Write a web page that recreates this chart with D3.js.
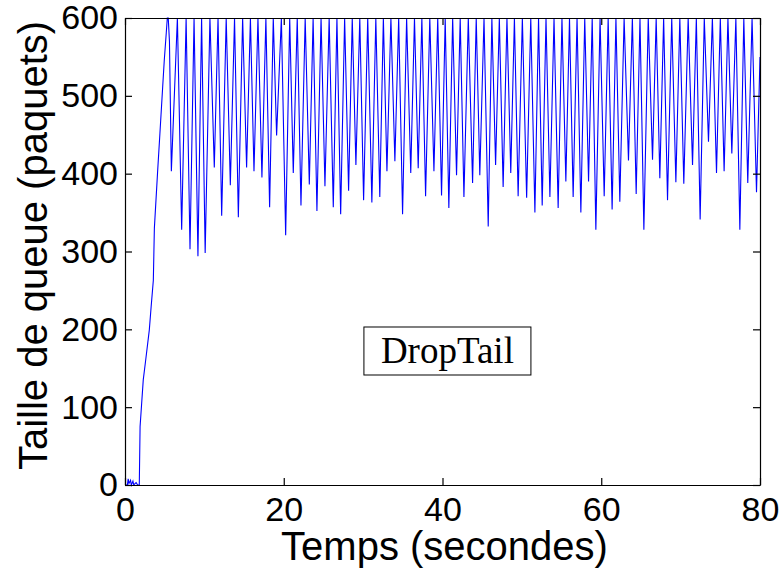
<!DOCTYPE html>
<head>
    <meta charset="utf-8">
    <style>
        body {
            margin: 0;
            background-color: #fff;
        }

        .axis text {
            font: 34px "Liberation Sans", Arial, sans-serif;
            fill: #000;
        }

        .axis path,
        .axis line {
            stroke: #000;
            stroke-width: 1.2;
        }

        .label {
            font: 40px "Liberation Sans", Arial, sans-serif;
        }
    </style>
</head>

<body>
    <div id="chart-area"></div>

    <script src="https://cdn.jsdelivr.net/npm/d3@7"></script>
    <script>
        // start-up phase: a little noise, then the queue fills up
        var rampT = [0, 0.3, 0.4, 0.5, 0.7, 0.8, 1.0, 1.1, 1.4, 1.6, 1.8, 1.9, 2.1, 2.3, 2.6, 3.06, 3.3, 3.57, 3.7, 4.1, 4.4, 4.75, 4.95, 5.2, 5.33, 5.45, 5.6]
        var rampV = [0, 0, 8, 2, 6, 0, 5, 0, 3, 0, 0, 75, 105, 135, 160, 199, 230, 263, 330, 401, 452, 512, 546, 581, 600, 600, 570]

        // bottoms of the sawtooth
        var troughT = [5.84, 7.14, 8.19, 9.19, 10.1, 11.25, 12.18, 13.27, 14.28, 15.32, 16.25, 17.25, 18.22, 19.1, 20.24, 21.2, 22.17, 23.22, 24.18, 25.19,
            26.24, 27.17, 28.17, 29.09, 30.06, 31.1, 32.1, 33.0, 34.0, 34.97, 36.0, 36.94, 37.87, 38.92, 39.88, 40.8, 41.77, 42.7, 43.79, 44.7,
            45.76, 46.69, 47.64, 48.6, 49.53, 50.6, 51.64, 52.56, 53.53, 54.57, 55.54, 56.46, 57.43, 58.4, 59.32, 60.37, 61.37, 62.34, 63.43, 64.4,
            65.37, 66.46, 67.38, 68.35, 69.4, 70.4, 71.5, 72.46, 73.51, 74.52, 75.48, 76.45, 77.46, 78.46, 79.56]
        var troughV = [403, 328, 303, 294, 298, 408, 346, 385, 344, 408, 403, 395, 357, 449, 321, 401, 359, 386, 352, 384,
            357, 348, 378, 411, 366, 363, 370, 403, 416, 348, 401, 407, 371, 403, 372, 356, 398, 370, 388, 398,
            332, 411, 383, 401, 371, 369, 350, 359, 370, 356, 390, 370, 350, 390, 328, 371, 354, 364, 417, 374,
            328, 418, 394, 366, 389, 387, 411, 341, 441, 401, 403, 426, 328, 388, 376]

        // times where the queue hits the 600 packet limit
        var peakT = [6.6, 7.7, 8.7, 9.65, 10.7, 11.72, 12.75, 13.8, 14.82, 15.8, 16.75, 17.75, 18.68, 19.7, 20.75, 21.7, 22.7, 23.7, 24.7, 25.72,
            26.7, 27.67, 28.63, 29.58, 30.58, 31.6, 32.55, 33.5, 34.48, 35.48, 36.47, 37.4, 38.4, 39.4, 40.34, 41.28, 42.23, 43.25, 44.25, 45.23,
            46.22, 47.16, 48.12, 49.06, 50.06, 51.12, 52.1, 53.04, 54.05, 55.05, 56.0, 56.95, 57.92, 58.86, 59.85, 60.87, 61.85, 62.88, 63.92, 64.88,
            65.92, 66.92, 67.86, 68.88, 69.9, 70.95, 71.98, 72.98, 74.0, 75.0, 75.96, 76.96, 77.96, 79.0]
        var peakV = 600
        var endT = 80, endV = 550

        var xTicks = [0, 20, 40, 60, 80]
        var yTicks = [0, 100, 200, 300, 400, 500, 600]

        var W = 781, H = 569
        var margins = { top: 18, right: 21, bottom: 84, left: 125 }
        var width = W - margins.left - margins.right
        var height = H - margins.top - margins.bottom

        var points = rampT.map((t, i) => [t, rampV[i]])
        troughT.forEach((t, i) => {
            points.push([t, troughV[i]])
            if (i < peakT.length) points.push([peakT[i], peakV])
        })
        points.push([endT, endV])

        var svg = d3.select("#chart-area").append("svg")
            .attr("width", W)
            .attr("height", H)

        var g = svg.append("g")
            .attr("transform", `translate(${margins.left},${margins.top})`)

        var x = d3.scaleLinear().domain([0, 80]).range([0, width])
        var y = d3.scaleLinear().domain([0, 600]).range([height, 0])

        var line = d3.line()
            .x(d => x(d[0]))
            .y(d => y(d[1]))

        g.append("path")
            .datum(points)
            .attr("fill", "none")
            .attr("stroke", "#0000ff")
            .attr("stroke-width", 1.1)
            .attr("d", line)

        g.append("g").attr("class", "axis")
            .attr("transform", `translate(0,${height})`)
            .call(d3.axisBottom(x).tickValues(xTicks).tickSizeInner(-7).tickSizeOuter(0).tickPadding(12))
        g.append("g").attr("class", "axis")
            .call(d3.axisTop(x).tickValues(xTicks).tickSizeInner(-7).tickSizeOuter(0).tickFormat(""))
        g.append("g").attr("class", "axis")
            .call(d3.axisLeft(y).tickValues(yTicks).tickSizeInner(-7).tickSizeOuter(0).tickPadding(7))
        g.append("g").attr("class", "axis")
            .attr("transform", `translate(${width},0)`)
            .call(d3.axisRight(y).tickValues(yTicks).tickSizeInner(-7).tickSizeOuter(0).tickFormat(""))

        svg.selectAll(".axis .domain").attr("stroke-width", 1.5)

        svg.append("text").attr("class", "label")
            .attr("x", margins.left + width / 2 + 2)
            .attr("y", 560)
            .attr("text-anchor", "middle")
            .text("Temps (secondes)")

        svg.append("text").attr("class", "label")
            .attr("transform", `translate(47,${margins.top + height / 2 - 6}) rotate(-90)`)
            .attr("text-anchor", "middle")
            .text("Taille de queue (paquets)")

        // legend box
        var box = g.append("g")
            .attr("transform", `translate(${x(30.1)},${y(203)})`)
        box.append("rect")
            .attr("width", 167)
            .attr("height", 48)
            .attr("fill", "#fff")
            .attr("stroke", "#000")
            .attr("stroke-width", 1)
        box.append("text")
            .attr("x", 83.5)
            .attr("y", 36)
            .attr("text-anchor", "middle")
            .style("font", '37px "Liberation Serif", "Times New Roman", serif')
            .text("DropTail")
    </script>
</body>
